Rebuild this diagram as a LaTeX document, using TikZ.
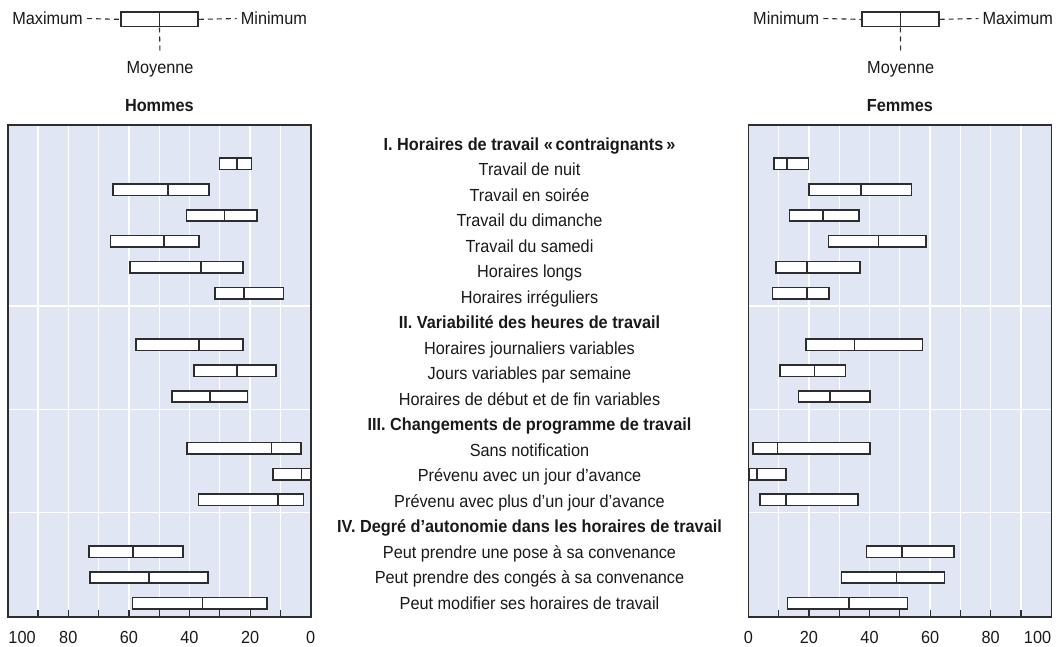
\documentclass[tikz,border=0pt]{standalone}
\usepackage{fontspec}
\setmainfont[FakeStretch=0.93]{Liberation Sans}
\usetikzlibrary{positioning}

\definecolor{panelbg}{RGB}{224,230,244}
\definecolor{ink}{RGB}{45,45,45}
\definecolor{textink}{RGB}{25,25,25}

\tikzset{
  gridline/.style={white, line width=1.3pt},
  frame/.style={draw=ink, line width=1.6pt},
  tickmark/.style={ink, line width=1.2pt},
  bar/.style={fill=white, draw=ink, line width=1.6pt},
  lbl/.style={inner sep=0pt, text=textink, font=\fontsize{17.5}{20}\selectfont},
  hdr/.style={lbl, font=\fontsize{17.5}{20}\selectfont\bfseries},
  key/.style={lbl, inner xsep=4pt},
  keybox/.style={bar, inner sep=0pt, minimum width=77pt, minimum height=14.7pt},
  leader/.style={ink, dash pattern=on 5pt off 4pt, line width=1.1pt},
}

\begin{document}
\begin{tikzpicture}[x=1pt, y=-1pt]
  \useasboundingbox (0,0) rectangle (1058,647);

  \node (maxL) [key, anchor=base east] at (87,24.8) {Maximum};
  \node (keyL) [keybox] at (159.5,19.35) {};
  \node (minL) [key, anchor=base west] at (236.7,24.8) {Minimum};
  \node (moyL) [lbl, anchor=base] at (160,74) {Moyenne};
  \draw[leader] (maxL.east) -- (keyL.west);
  \draw[leader] (keyL.east) -- (minL.west);
  \draw[leader] (keyL.south) -- ([yshift=9pt]moyL.north);
  \draw[bar] (keyL.north) -- (keyL.south);
  \node (hommes) [hdr, anchor=base] at (159.4,111.5) {Hommes};

  \node (minR) [key, anchor=base west] at (749,24.8) {Minimum};
  \node (keyR) [keybox] at (900.35,19.35) {};
  \node (maxR) [key, anchor=base west] at (978.3,24.8) {Maximum};
  \node (moyR) [lbl, anchor=base] at (900.7,74) {Moyenne};
  \draw[leader] (minR.east) -- (keyR.west);
  \draw[leader] (keyR.east) -- (maxR.west);
  \draw[leader] (keyR.south) -- ([yshift=9pt]moyR.north);
  \draw[bar] (keyR.north) -- (keyR.south);
  \node (femmes) [hdr, anchor=base] at (900,111.5) {Femmes};

  \fill[panelbg] (7.7,125) rectangle (310.7,616.7);
  \fill[panelbg] (748.3,125) rectangle (1051.3,616.7);
  \foreach \v in {10,20,...,90} {
    \draw[gridline] ({310.7-3.03*\v},125) -- ({310.7-3.03*\v},616.7);
    \draw[gridline] ({748.3+3.03*\v},125) -- ({748.3+3.03*\v},616.7);
  }
  \foreach \k in {7,11,15} {
    \draw[gridline] (7.7,{138+25.85*(\k-0.5)}) -- (310.7,{138+25.85*(\k-0.5)});
    \draw[gridline] (748.3,{138+25.85*(\k-0.5)}) -- (1051.3,{138+25.85*(\k-0.5)});
  }
  \foreach \v in {10,20,...,90} {
    \draw[tickmark] ({310.7-3.03*\v},616.7) -- ({310.7-3.03*\v},609.5);
    \draw[tickmark] ({748.3+3.03*\v},616.7) -- ({748.3+3.03*\v},609.5);
  }
  \draw[frame] (7.7,125) rectangle (310.7,616.7);
  \draw[frame] (748.3,125) rectangle (1051.3,616.7);

  \begin{scope}[shift={(310.7,0)}, xscale=-3.03]
    \foreach \k/\a/\m/\b in {1/30.1/24.4/19.6, 2/65.2/47.1/33.5, 3/41.0/28.4/17.8,
        4/66.1/48.4/36.9, 5/59.7/36.2/22.4, 6/31.5/22.0/9.0,
        8/57.6/36.9/22.4, 9/38.5/24.4/11.5, 10/45.8/33.3/20.8,
        12/40.9/13.0/3.2, 13/12.5/3.0/0, 14/37.0/10.8/2.4,
        16/73.1/58.7/42.1, 17/72.8/53.3/33.8, 18/58.8/35.7/14.5} {
      \draw[bar] (\a,{132.25+25.85*\k}) rectangle (\b,{143.75+25.85*\k});
      \draw[bar] (\m,{132.25+25.85*\k}) -- (\m,{143.75+25.85*\k});
    }
    \foreach \v in {80,60,...,0}
      \node (axL\v) [lbl, anchor=base] at (\v,643) {\v};
  \end{scope}
  \node (axL100) [lbl, anchor=base west] at (8.3,643) {100};

  \begin{scope}[shift={(748.3,0)}, xscale=3.03]
    \foreach \k/\a/\m/\b in {1/8.4/12.8/19.8, 2/20.0/37.1/53.9, 3/13.6/24.6/36.6,
        4/26.5/43.0/58.7, 5/9.2/19.4/36.9, 6/8.0/19.4/26.7,
        8/19.1/35.1/57.5, 9/10.5/21.9/32.1, 10/16.6/27.0/40.1,
        12/1.6/9.6/40.1, 13/0.2/2.8/12.4, 14/3.8/12.4/36.3,
        16/39.0/50.7/67.9, 17/30.8/48.9/64.8, 18/13.0/33.2/52.6} {
      \draw[bar] (\a,{132.25+25.85*\k}) rectangle (\b,{143.75+25.85*\k});
      \draw[bar] (\m,{132.25+25.85*\k}) -- (\m,{143.75+25.85*\k});
    }
    \foreach \v in {0,20,...,80}
      \node (axR\v) [lbl, anchor=base] at (\v,643) {\v};
  \end{scope}
  \node (axR100) [lbl, anchor=base east] at (1051.3,643) {100};

  \foreach \k/\t in {0/{\bfseries I. Horaires de travail «\,contraignants\,»},
      1/Travail de nuit, 2/Travail en soirée, 3/Travail du dimanche,
      4/Travail du samedi, 5/Horaires longs, 6/Horaires irréguliers,
      7/{\bfseries II. Variabilité des heures de travail},
      8/Horaires journaliers variables, 9/Jours variables par semaine,
      10/Horaires de début et de fin variables,
      11/{\bfseries III. Changements de programme de travail},
      12/Sans notification, 13/Prévenu avec un jour d’avance,
      14/Prévenu avec plus d’un jour d’avance,
      15/{\bfseries IV. Degré d’autonomie dans les horaires de travail},
      16/Peut prendre une pose à sa convenance,
      17/Peut prendre des congés à sa convenance,
      18/Peut modifier ses horaires de travail}
    \node (item\k) [lbl, anchor=base] at (529.5,{150.5+25.48*\k}) {\t};

\end{tikzpicture}
\end{document}
